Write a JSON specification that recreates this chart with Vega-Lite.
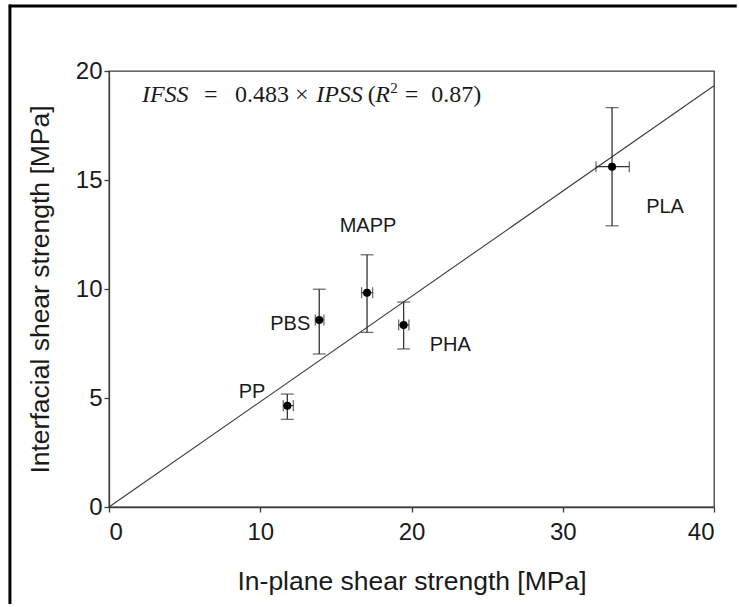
{
  "$schema": "https://vega.github.io/schema/vega-lite/v6.json",
  "width": 605,
  "height": 436,
  "autosize": {"type": "none"},
  "padding": {"left": 109, "top": 71, "right": 25, "bottom": 100},
  "background": "white",
  "config": {
    "view": {"stroke": "#3c3c3c", "strokeWidth": 1.3},
    "axis": {
      "grid": false,
      "domainColor": "#3c3c3c",
      "domainWidth": 1.3,
      "tickColor": "#3c3c3c",
      "tickWidth": 1.3,
      "tickSize": 5,
      "labelFont": "Liberation Sans",
      "labelFontSize": 24,
      "labelColor": "#1a1a1a",
      "titleFont": "Liberation Sans",
      "titleFontSize": 26.5,
      "titleFontWeight": "normal",
      "titleColor": "#1a1a1a"
    },
    "text": {"font": "Liberation Sans", "fontSize": 20, "color": "#1a1a1a"}
  },
  "datasets": {
    "samples": [
      {"polymer": "PP", "ipss": 11.79, "ipss_lo": 11.52, "ipss_hi": 12.19, "ifss": 4.65, "ifss_lo": 4.02, "ifss_hi": 5.18},
      {"polymer": "PBS", "ipss": 13.9, "ipss_lo": 13.64, "ipss_hi": 14.21, "ifss": 8.58, "ifss_lo": 7.02, "ifss_hi": 9.99},
      {"polymer": "MAPP", "ipss": 17.06, "ipss_lo": 16.7, "ipss_hi": 17.43, "ifss": 9.83, "ifss_lo": 8.01, "ifss_hi": 11.57},
      {"polymer": "PHA", "ipss": 19.48, "ipss_lo": 19.15, "ipss_hi": 19.83, "ifss": 8.35, "ifss_lo": 7.25, "ifss_hi": 9.4},
      {"polymer": "PLA", "ipss": 33.26, "ipss_lo": 32.2, "ipss_hi": 34.4, "ifss": 15.61, "ifss_lo": 12.9, "ifss_hi": 18.32}
    ],
    "fit": [
      {"ipss": 0, "ifss": 0},
      {"ipss": 40, "ifss": 19.32}
    ],
    "single": [{}]
  },
  "encoding": {
    "x": {
      "type": "quantitative",
      "scale": {"domain": [0, 40], "nice": false},
      "axis": {"title": "In-plane shear strength [MPa]", "values": [0, 10, 20, 30, 40], "labelPadding": 8, "titlePadding": 24}
    },
    "y": {
      "type": "quantitative",
      "scale": {"domain": [0, 20], "nice": false},
      "axis": {"title": "Interfacial shear strength [MPa]", "values": [0, 5, 10, 15, 20], "labelPadding": 2, "titlePadding": 21}
    }
  },
  "layer": [
    {
      "data": {"name": "single"},
      "mark": {"type": "rule", "color": "black", "strokeWidth": 3, "clip": false},
      "encoding": {"x": {"datum": -6.55}, "y": {"datum": 23.05}, "y2": {"datum": -4.45}}
    },
    {
      "data": {"name": "single"},
      "mark": {"type": "rule", "color": "black", "strokeWidth": 3, "clip": false},
      "encoding": {"x": {"datum": -6.62}, "x2": {"datum": 41.5}, "y": {"datum": 22.98}}
    },
    {
      "data": {"name": "fit"},
      "mark": {"type": "line", "color": "#3c3c3c", "strokeWidth": 1.1},
      "encoding": {"x": {"field": "ipss"}, "y": {"field": "ifss"}}
    },
    {
      "data": {"name": "samples"},
      "mark": {"type": "rule", "color": "#333333", "strokeWidth": 1.3},
      "encoding": {"x": {"field": "ipss"}, "y": {"field": "ifss_lo"}, "y2": {"field": "ifss_hi"}}
    },
    {
      "data": {"name": "samples"},
      "mark": {"type": "rule", "color": "#333333", "strokeWidth": 1.3},
      "encoding": {"x": {"field": "ipss_lo"}, "x2": {"field": "ipss_hi"}, "y": {"field": "ifss"}}
    },
    {
      "data": {"name": "samples"},
      "mark": {"type": "tick", "orient": "horizontal", "color": "#333333", "size": 13, "thickness": 1.3},
      "encoding": {"x": {"field": "ipss"}, "y": {"field": "ifss_lo"}}
    },
    {
      "data": {"name": "samples"},
      "mark": {"type": "tick", "orient": "horizontal", "color": "#333333", "size": 13, "thickness": 1.3},
      "encoding": {"x": {"field": "ipss"}, "y": {"field": "ifss_hi"}}
    },
    {
      "data": {"name": "samples"},
      "mark": {"type": "tick", "orient": "vertical", "color": "#333333", "size": 11, "thickness": 1.3},
      "encoding": {"x": {"field": "ipss_lo"}, "y": {"field": "ifss"}}
    },
    {
      "data": {"name": "samples"},
      "mark": {"type": "tick", "orient": "vertical", "color": "#333333", "size": 11, "thickness": 1.3},
      "encoding": {"x": {"field": "ipss_hi"}, "y": {"field": "ifss"}}
    },
    {
      "data": {"name": "samples"},
      "mark": {"type": "point", "filled": true, "color": "black", "opacity": 1, "size": 64},
      "encoding": {"x": {"field": "ipss"}, "y": {"field": "ifss"}}
    },
    {
      "data": {"name": "samples"},
      "transform": [{"filter": "datum.polymer === 'PP'"}],
      "mark": {"type": "text", "align": "right", "baseline": "middle", "dx": -22, "dy": -14},
      "encoding": {"x": {"field": "ipss"}, "y": {"field": "ifss"}, "text": {"field": "polymer"}}
    },
    {
      "data": {"name": "samples"},
      "transform": [{"filter": "datum.polymer === 'PBS'"}],
      "mark": {"type": "text", "align": "right", "baseline": "middle", "dx": -9, "dy": 4},
      "encoding": {"x": {"field": "ipss"}, "y": {"field": "ifss"}, "text": {"field": "polymer"}}
    },
    {
      "data": {"name": "samples"},
      "transform": [{"filter": "datum.polymer === 'MAPP'"}],
      "mark": {"type": "text", "align": "center", "baseline": "middle", "dx": 1, "dy": -29},
      "encoding": {"x": {"field": "ipss"}, "y": {"field": "ifss_hi"}, "text": {"field": "polymer"}}
    },
    {
      "data": {"name": "samples"},
      "transform": [{"filter": "datum.polymer === 'PHA'"}],
      "mark": {"type": "text", "align": "left", "baseline": "middle", "dx": 26, "dy": 20},
      "encoding": {"x": {"field": "ipss"}, "y": {"field": "ifss"}, "text": {"field": "polymer"}}
    },
    {
      "data": {"name": "samples"},
      "transform": [{"filter": "datum.polymer === 'PLA'"}],
      "mark": {"type": "text", "align": "center", "baseline": "middle", "dx": 53, "dy": 40},
      "encoding": {"x": {"field": "ipss"}, "y": {"field": "ifss"}, "text": {"field": "polymer"}}
    },
    {
      "data": {"name": "single"},
      "layer": [
        {
          "mark": {"type": "text", "text": "IFSS", "font": "Liberation Serif", "fontStyle": "italic", "fontSize": 24, "align": "left", "baseline": "alphabetic"},
          "encoding": {"x": {"datum": 2.18}, "y": {"datum": 18.59}}
        },
        {
          "mark": {"type": "text", "text": "=", "font": "Liberation Serif", "fontSize": 24, "align": "left", "baseline": "alphabetic"},
          "encoding": {"x": {"datum": 6.28}, "y": {"datum": 18.59}}
        },
        {
          "mark": {"type": "text", "text": "0.483 ×", "font": "Liberation Serif", "fontSize": 24, "align": "left", "baseline": "alphabetic"},
          "encoding": {"x": {"datum": 8.33}, "y": {"datum": 18.59}}
        },
        {
          "mark": {"type": "text", "text": "IPSS", "font": "Liberation Serif", "fontStyle": "italic", "fontSize": 24, "align": "left", "baseline": "alphabetic"},
          "encoding": {"x": {"datum": 13.7}, "y": {"datum": 18.59}}
        },
        {
          "mark": {"type": "text", "text": "(", "font": "Liberation Serif", "fontSize": 24, "align": "left", "baseline": "alphabetic"},
          "encoding": {"x": {"datum": 17.1}, "y": {"datum": 18.59}}
        },
        {
          "mark": {"type": "text", "text": "R", "font": "Liberation Serif", "fontStyle": "italic", "fontSize": 24, "align": "left", "baseline": "alphabetic"},
          "encoding": {"x": {"datum": 17.6}, "y": {"datum": 18.59}}
        },
        {
          "mark": {"type": "text", "text": "2", "font": "Liberation Serif", "fontSize": 15, "align": "left", "baseline": "alphabetic"},
          "encoding": {"x": {"datum": 18.6}, "y": {"datum": 19.0}}
        },
        {
          "mark": {"type": "text", "text": "=", "font": "Liberation Serif", "fontSize": 24, "align": "left", "baseline": "alphabetic"},
          "encoding": {"x": {"datum": 19.55}, "y": {"datum": 18.59}}
        },
        {
          "mark": {"type": "text", "text": "0.87)", "font": "Liberation Serif", "fontSize": 24, "align": "left", "baseline": "alphabetic"},
          "encoding": {"x": {"datum": 21.3}, "y": {"datum": 18.59}}
        }
      ]
    }
  ]
}
